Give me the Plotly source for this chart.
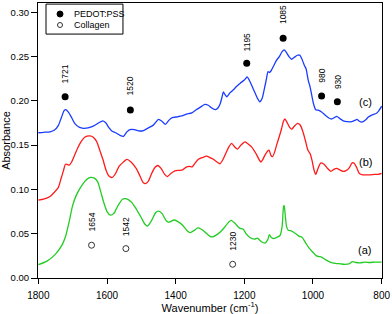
import plotly.graph_objects as go

# ---------------- data ----------------
wn_a = [1800, 1775, 1750, 1730, 1720, 1710, 1700, 1690, 1676, 1660, 1648, 1638, 1627, 1618, 1610, 1600,
        1590, 1580, 1569, 1555, 1545, 1530, 1515, 1500, 1490, 1482, 1470, 1458, 1450, 1440, 1428, 1420,
        1405, 1395, 1382, 1368, 1358, 1345, 1336, 1325, 1315, 1300, 1292, 1280, 1270, 1258, 1248, 1238,
        1228, 1218, 1212, 1203, 1195, 1185, 1170, 1162, 1150, 1140, 1132, 1127, 1122, 1115, 1105, 1096,
        1090, 1086, 1084, 1081, 1077, 1072, 1062, 1050, 1040, 1032, 1022, 1012, 1000, 990, 975, 965, 950,
        935, 920, 910, 895, 885, 875, 863, 850, 835, 820, 800]
abs_a = [0.015, 0.019, 0.027, 0.038, 0.048, 0.064, 0.082, 0.093, 0.103, 0.111, 0.1135, 0.113, 0.1085,
         0.097, 0.086, 0.075, 0.071, 0.073, 0.081, 0.089, 0.0895, 0.086, 0.078, 0.068, 0.061, 0.0585,
         0.065, 0.074, 0.0755, 0.073, 0.065, 0.063, 0.0655, 0.064, 0.0605, 0.054, 0.0512, 0.054, 0.0565,
         0.055, 0.052, 0.047, 0.0465, 0.049, 0.052, 0.057, 0.062, 0.065, 0.062, 0.0577, 0.056, 0.055,
         0.050, 0.046, 0.044, 0.045, 0.041, 0.0395, 0.043, 0.049, 0.046, 0.0445, 0.046, 0.048, 0.058,
         0.080, 0.082, 0.072, 0.058, 0.054, 0.053, 0.050, 0.047, 0.046, 0.040, 0.034, 0.029, 0.025,
         0.0235, 0.021, 0.018, 0.0165, 0.016, 0.0155, 0.016, 0.0185, 0.0175, 0.017, 0.018, 0.0175,
         0.018, 0.018]

wn_b = [1800, 1785, 1766, 1753, 1742, 1734, 1727, 1721, 1715, 1710, 1703, 1695, 1685, 1676, 1665, 1650,
        1640, 1630, 1620, 1612, 1603, 1595, 1585, 1575, 1565, 1555, 1542, 1530, 1515, 1505, 1495, 1488,
        1480, 1470, 1460, 1452, 1442, 1432, 1424, 1414, 1402, 1390, 1380, 1368, 1360, 1352, 1343, 1334,
        1322, 1310, 1300, 1290, 1280, 1271, 1262, 1256, 1245, 1237, 1228, 1220, 1210, 1198, 1188, 1179,
        1170, 1164, 1156, 1152, 1146, 1140, 1132, 1128, 1122, 1118, 1112, 1106, 1098, 1092, 1086, 1082,
        1076, 1068, 1062, 1055, 1045, 1038, 1030, 1022, 1015, 1008, 1003, 997, 992, 985, 977, 968, 958,
        948, 938, 931, 922, 912, 905, 895, 886, 880, 872, 865, 855, 845, 835, 820, 810, 800]
abs_b = [0.088, 0.089, 0.092, 0.097, 0.102, 0.112, 0.121, 0.1285, 0.128, 0.1275, 0.131, 0.138, 0.147,
         0.1537, 0.159, 0.1605, 0.159, 0.154, 0.143, 0.134, 0.122, 0.1155, 0.1135, 0.118, 0.126, 0.130,
         0.134, 0.131, 0.1237, 0.116, 0.108, 0.1065, 0.109, 0.118, 0.125, 0.127, 0.1235, 0.117, 0.1145,
         0.118, 0.121, 0.1215, 0.122, 0.1255, 0.126, 0.1255, 0.130, 0.134, 0.136, 0.1376, 0.136, 0.134,
         0.131, 0.129, 0.134, 0.139, 0.148, 0.152, 0.148, 0.1455, 0.150, 0.1537, 0.151, 0.148, 0.143,
         0.139, 0.133, 0.131, 0.134, 0.1387, 0.1435, 0.1444, 0.138, 0.137, 0.142, 0.150, 0.160, 0.168,
         0.177, 0.1795, 0.176, 0.170, 0.168, 0.171, 0.1745, 0.173, 0.166, 0.155, 0.1444, 0.140, 0.133,
         0.122, 0.117, 0.124, 0.130, 0.1285, 0.124, 0.1205, 0.123, 0.1237, 0.122, 0.1205, 0.121, 0.124,
         0.130, 0.1295, 0.124, 0.118, 0.1165, 0.1165, 0.1165, 0.117, 0.117, 0.118]

wn_c = [1800, 1785, 1766, 1753, 1742, 1733, 1725, 1720, 1712, 1703, 1693, 1680, 1669, 1655, 1640, 1625,
        1612, 1603, 1595, 1586, 1575, 1562, 1552, 1542, 1533, 1520, 1505, 1494, 1482, 1465, 1450, 1440,
        1430, 1420, 1410, 1395, 1382, 1368, 1353, 1340, 1329, 1315, 1305, 1297, 1285, 1277, 1270, 1264,
        1261, 1256, 1251, 1242, 1232, 1222, 1212, 1200, 1192, 1185, 1178, 1170, 1162, 1155, 1148, 1142,
        1136, 1131, 1127, 1122, 1114, 1106, 1098, 1090, 1084, 1078, 1070, 1062, 1055, 1045, 1038, 1032,
        1025, 1020, 1014, 1008, 1003, 998, 992, 985, 975, 965, 955, 946, 938, 931, 922, 912, 900, 887,
        878, 872, 865, 858, 848, 838, 829, 815, 808, 800]
abs_c = [0.164, 0.1645, 0.165, 0.167, 0.172, 0.181, 0.189, 0.190, 0.187, 0.181, 0.174, 0.170, 0.169,
         0.1695, 0.1715, 0.175, 0.1775, 0.175, 0.170, 0.166, 0.164, 0.161, 0.160, 0.165, 0.1675, 0.1675,
         0.166, 0.1665, 0.169, 0.1726, 0.179, 0.177, 0.1735, 0.178, 0.181, 0.182, 0.183, 0.185, 0.1865,
         0.190, 0.1926, 0.196, 0.195, 0.1925, 0.190, 0.192, 0.197, 0.206, 0.210, 0.207, 0.2046, 0.209,
         0.2125, 0.2165, 0.220, 0.2235, 0.227, 0.223, 0.217, 0.210, 0.203, 0.199, 0.203, 0.213, 0.224,
         0.233, 0.232, 0.234, 0.240, 0.246, 0.250, 0.2555, 0.2575, 0.255, 0.250, 0.247, 0.249, 0.2515,
         0.2515, 0.247, 0.240, 0.236, 0.2235, 0.215, 0.205, 0.196, 0.190, 0.1895, 0.1875, 0.184, 0.181,
         0.1795, 0.181, 0.1825, 0.180, 0.1775, 0.1765, 0.1765, 0.178, 0.179, 0.177, 0.176, 0.178, 0.182,
         0.184, 0.186, 0.189, 0.194]

pedot_x = [1722, 1532, 1193, 1087, 975, 929]
pedot_y = [0.2046, 0.1896, 0.2424, 0.2706, 0.2054, 0.199]
pedot_labels = ["1721", "1520", "1195", "1085", "980", "930"]
pedot_label_y = [0.230, 0.2167, 0.2668, 0.297, 0.228, 0.2216]

coll_x = [1645, 1545, 1234]
coll_y = [0.037, 0.0332, 0.0155]
coll_labels = ["1654", "1542", "1230"]
coll_label_y = [0.0633, 0.0584, 0.0418]

curve_tags = ["(a)", "(b)", "(c)"]
curve_tag_x = [850, 846, 846]
curve_tag_y = [0.032, 0.131, 0.199]

legend_names = ["PEDOT:PSS", "Collagen"]

x_ticks = [1800, 1600, 1400, 1200, 1000, 800]
y_ticks = [0.00, 0.05, 0.10, 0.15, 0.20, 0.25, 0.30]

# ---------------- figure ----------------
FONT = "Arial, Liberation Sans, sans-serif"
fig = go.Figure()
for wn, ab, col in [(wn_a, abs_a, "#22cc22"), (wn_b, abs_b, "#ff1a1a"), (wn_c, abs_c, "#1a3cff")]:
    fig.add_trace(go.Scatter(x=wn, y=ab, mode="lines", line=dict(color=col, width=1.3, shape="spline", smoothing=0.6),
                             showlegend=False, hoverinfo="skip"))

fig.add_trace(go.Scatter(x=pedot_x, y=pedot_y, mode="markers", name=legend_names[0],
                         marker=dict(symbol="circle", size=7, color="black"), showlegend=False))
fig.add_trace(go.Scatter(x=coll_x, y=coll_y, mode="markers", name=legend_names[1],
                         marker=dict(symbol="circle-open", size=6, color="#333333", line=dict(width=1)),
                         showlegend=False))

annotations = []
for xs, ys, labs in [(pedot_x, pedot_label_y, pedot_labels), (coll_x, coll_label_y, coll_labels)]:
    for x, y, t in zip(xs, ys, labs):
        annotations.append(dict(x=x, y=y, text=t, textangle=-90, showarrow=False,
                                font=dict(family=FONT, size=8.5, color="black"), xref="x", yref="y"))
for x, y, t in zip(curve_tag_x, curve_tag_y, curve_tags):
    annotations.append(dict(x=x, y=y, text=t, showarrow=False,
                            font=dict(family=FONT, size=11, color="black"), xref="x", yref="y"))

# manual legend (paper coordinates)
leg_x_sym = 0.064
leg_x_txt = 0.098
leg_rows_y = [0.96, 0.92]
for yy, t in zip(leg_rows_y, legend_names):
    annotations.append(dict(x=leg_x_txt, y=yy, xref="paper", yref="paper", text=t, showarrow=False,
                            xanchor="left", yanchor="middle", font=dict(family=FONT, size=9, color="black")))

shapes = [
    dict(type="rect", xref="paper", yref="paper", x0=0.0233, x1=0.247, y0=0.887, y1=0.996,
         line=dict(color="black", width=1), fillcolor="white", layer="above"),
    dict(type="circle", xref="paper", yref="paper", xsizemode="pixel", ysizemode="pixel",
         xanchor=leg_x_sym, yanchor=leg_rows_y[0], x0=-3, x1=3, y0=-3, y1=3,
         fillcolor="black", line=dict(color="black", width=1), layer="above"),
    dict(type="circle", xref="paper", yref="paper", xsizemode="pixel", ysizemode="pixel",
         xanchor=leg_x_sym, yanchor=leg_rows_y[1], x0=-2.5, x1=2.5, y0=-2.5, y1=2.5,
         fillcolor="white", line=dict(color="#333333", width=1), layer="above"),
]

fig.update_layout(
    width=392, height=314,
    margin=dict(l=38, r=10, t=3, b=36, autoexpand=False),
    paper_bgcolor="white", plot_bgcolor="white",
    font=dict(family=FONT, size=10, color="black"),
    annotations=annotations, shapes=shapes, showlegend=False,
)
fig.update_xaxes(range=[1801, 799], tickvals=x_ticks, ticktext=[str(v) for v in x_ticks],
                 ticks="outside", ticklen=5, tickcolor="black", showgrid=False, zeroline=False,
                 showline=True, linecolor="black", linewidth=1, mirror=True, automargin=False,
                 ticklabelstandoff=3,
                 tickfont=dict(size=10), title=dict(text="Wavenumber (cm<sup>-1</sup>)", font=dict(size=11), standoff=0))
fig.update_yaxes(range=[0, 0.3105], tickvals=y_ticks, ticktext=[f"{v:.2f}" for v in y_ticks],
                 ticks="outside", ticklen=6, tickcolor="black", showgrid=False, zeroline=False,
                 showline=True, linecolor="black", linewidth=1, mirror=True, automargin=False,
                 ticklabelstandoff=0,
                 tickfont=dict(size=9.5), title=dict(text="Absorbance", font=dict(size=11), standoff=1))

fig.write_html("out.html", config={"displayModeBar": False},
               post_script="document.body.style.margin='0px';")
